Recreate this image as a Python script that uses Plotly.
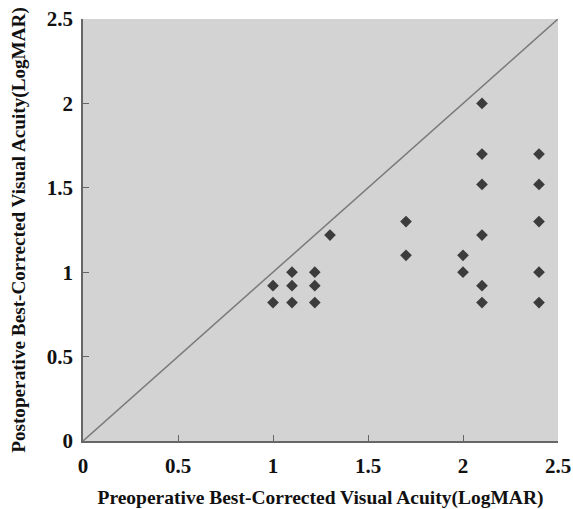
import plotly.graph_objects as go

pre = [1.0, 1.0,
       1.1, 1.1, 1.1,
       1.22, 1.22, 1.22,
       1.3,
       1.7, 1.7,
       2.0, 2.0,
       2.1, 2.1, 2.1, 2.1, 2.1, 2.1,
       2.4, 2.4, 2.4, 2.4, 2.4]
post = [0.92, 0.82,
        1.0, 0.92, 0.82,
        1.0, 0.92, 0.82,
        1.22,
        1.3, 1.1,
        1.1, 1.0,
        2.0, 1.7, 1.52, 1.22, 0.92, 0.82,
        1.7, 1.52, 1.3, 1.0, 0.82]
ref_line = [0, 2.5]
ticks = [0, 0.5, 1, 1.5, 2, 2.5]
tick_text = ["0", "0.5", "1", "1.5", "2", "2.5"]

font_family = "Liberation Serif"

fig = go.Figure()
fig.add_trace(go.Scatter(x=ref_line, y=ref_line, mode="lines",
                         line=dict(color="#7a7a7a", width=1.5),
                         hoverinfo="skip", showlegend=False))
fig.add_trace(go.Scatter(x=pre, y=post, mode="markers",
                         marker=dict(symbol="diamond", size=9, color="#3c3c3c",
                                     line=dict(width=0)),
                         showlegend=False))

axis_common = dict(
    range=[0, 2.5], tickvals=ticks, ticktext=tick_text,
    showgrid=False, zeroline=False, showline=True, automargin=False,
    linecolor="#666666", linewidth=1.5,
    ticks="inside", ticklen=6, tickcolor="#666666", tickwidth=1,
    tickfont=dict(family=font_family, size=21, color="#111111", weight="bold"),
)

fig.update_layout(
    width=573, height=509,
    margin=dict(l=83, r=15, t=19, b=68),
    paper_bgcolor="white", plot_bgcolor="#d3d3d3",
    font=dict(family=font_family, color="#111111"),
    xaxis=dict(**axis_common, ticklabelstandoff=5,
               title=dict(text="<b>Preoperative Best-Corrected Visual Acuity(LogMAR)</b>",
                          font=dict(family=font_family, size=19.5, color="#111111"),
                          standoff=14)),
    yaxis=dict(**axis_common, ticklabelstandoff=4,
               title=dict(text="<b>Postoperative Best-Corrected Visual Acuity(LogMAR)</b>",
                          font=dict(family=font_family, size=19.2, color="#111111"),
                          standoff=16)),
)

fig.write_html("out.html", config={"displayModeBar": False},
               post_script="document.body.style.margin='0';")
